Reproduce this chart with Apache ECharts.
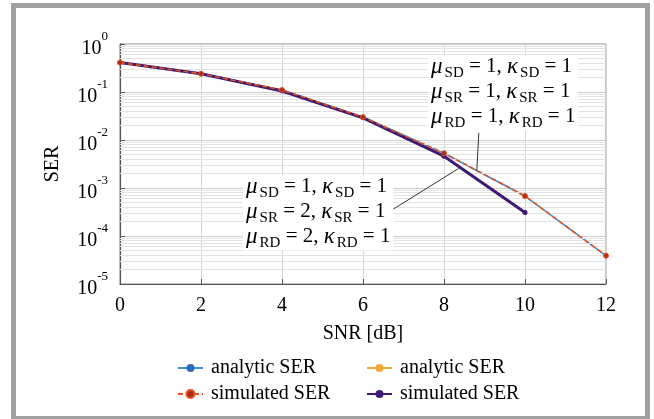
<!DOCTYPE html>
<html>
<head>
<meta charset="utf-8">
<script src="https://cdn.jsdelivr.net/npm/echarts@6/dist/echarts.min.js"></script>
<style>
html,body{margin:0;padding:0;background:#fff;}
#chart{width:654px;height:419px;}
</style>
</head>
<body>
<div id="chart"></div>
<script>
// ---- data ----
const snr = [0, 2, 4, 6, 8, 10, 12];
const analytic1 = [0.41, 0.24, 0.11, 0.030, 0.0053, 0.00068, 0.000039];
const simulated1 = [0.41, 0.24, 0.11, 0.030, 0.0053, 0.00068, 0.000039];
const snr2 = [0, 2, 4, 6, 8, 10];
const analytic2 = [0.41, 0.24, 0.105, 0.029, 0.0046, 0.00031];
const simulated2 = [0.41, 0.24, 0.105, 0.029, 0.0046, 0.00031];
const xTicks = [0, 2, 4, 6, 8, 10, 12];
const yDecades = [-5, -4, -3, -2, -1];
const minorMultipliers = [2, 3, 4, 5, 6, 7, 8, 9];
// annotation arrows [start, end] in data coordinates
const arrowUpper = [[8.86, 0.0141], [8.81, 0.0023]];
const arrowLower = [[6.67, 0.00033], [8.36, 0.00255]];

const serif = "'Liberation Serif','Times New Roman',serif";
const chart = echarts.init(document.getElementById('chart'));

const xMin = xTicks[0], xMax = xTicks[xTicks.length - 1];
const minorLines = [];
yDecades.forEach(d => minorMultipliers.forEach(m => {
  const v = m * Math.pow(10, d);
  minorLines.push([{ coord: [xMin, v] }, { coord: [xMax, v] }]);
}));

function pairs(xs, ys) { return xs.map((x, i) => [x, ys[i]]); }

const rich = {
  m: { fontFamily: serif, fontStyle: 'italic', fontSize: 23, color: '#000', padding: [0, 0, 3, 0] },
  s: { fontFamily: serif, fontSize: 15, color: '#000', padding: [10, 0, 0, 2] },
  t: { fontFamily: serif, fontSize: 21, color: '#000', padding: [0, 0, 3, 0] }
};
function annLines(a, b, c) {
  return [
    '{m|μ}{s|SD}{t| = ' + a + ', }{m|κ}{s|SD}{t| = 1}',
    '{m|μ}{s|SR}{t| = ' + b + ', }{m|κ}{s|SR}{t| = 1}',
    '{m|μ}{s|RD}{t| = ' + c + ', }{m|κ}{s|RD}{t| = 1}'
  ].join('\n');
}

const option = {
  backgroundColor: '#fff',
  animation: false,
  grid: { left: 120, top: 44, right: 48, bottom: 135, show: true, borderColor: '#8a8a8a', borderWidth: 1 },
  xAxis: {
    type: 'value', min: 0, max: 12, interval: 2,
    name: 'SNR [dB]', nameLocation: 'middle', nameGap: 40,
    nameTextStyle: { fontFamily: serif, fontSize: 20, color: '#000' },
    axisLine: { lineStyle: { color: '#555', width: 1.2 } },
    axisTick: { inside: true, length: 5, lineStyle: { color: '#555' } },
    axisLabel: { fontFamily: serif, fontSize: 20, color: '#000', margin: 12 },
    splitLine: { show: true, lineStyle: { color: '#d4d4d4', width: 1 } }
  },
  yAxis: {
    type: 'log', logBase: 10, min: 0.00001, max: 1,
    name: 'SER', nameLocation: 'middle', nameGap: 57,
    nameTextStyle: { fontFamily: serif, fontSize: 20, color: '#000' },
    axisLine: { show: true, lineStyle: { color: '#555', width: 1.2 } },
    axisTick: { show: true, inside: true, length: 5, lineStyle: { color: '#555' } },
    axisLabel: {
      margin: 12,
      formatter: function (v) {
        const e = Math.round(Math.log10(v));
        return '{b|10}{e|' + (e === 0 ? '0' : e) + '}';
      },
      rich: {
        b: { fontFamily: serif, fontSize: 20, color: '#000', padding: [10, 0, 0, 0] },
        e: { fontFamily: serif, fontSize: 13, color: '#000', padding: [0, 0, 14, 0] }
      }
    },
    splitLine: { show: true, lineStyle: { color: '#cccccc', width: 1 } }
  },
  legend: [
    {
      orient: 'vertical', left: 172, top: 353, itemWidth: 25, itemHeight: 10, itemGap: 6,
      data: ['analytic SER', 'simulated SER'],
      formatter: n => n.trim(),
      textStyle: { fontFamily: serif, fontSize: 20, color: '#000', padding: [0, 0, 0, 3] }
    },
    {
      orient: 'vertical', left: 361, top: 353, itemWidth: 25, itemHeight: 10, itemGap: 6,
      data: ['analytic SER ', 'simulated SER '],
      formatter: n => n.trim(),
      textStyle: { fontFamily: serif, fontSize: 20, color: '#000', padding: [0, 0, 0, 3] }
    }
  ],
  series: [
    {
      name: 'analytic SER', type: 'line', data: pairs(snr, analytic1), z: 3,
      symbol: 'circle', symbolSize: 4, showSymbol: true,
      lineStyle: { color: '#3c92d8', width: 1.6 }, itemStyle: { color: '#2a6fbf' },
      markLine: {
        silent: true, symbol: 'none', label: { show: false }, animation: false,
        lineStyle: { color: '#e2e2e2', width: 1, type: 'solid' },
        data: minorLines
      }
    },
    {
      name: 'analytic SER ', type: 'line', data: pairs(snr2, analytic2), z: 4,
      symbol: 'circle', symbolSize: 4,
      lineStyle: { color: '#f2a73a', width: 1.6 }, itemStyle: { color: '#f2a73a' }
    },
    {
      name: 'simulated SER ', type: 'line', data: pairs(snr2, simulated2), z: 5,
      symbol: 'circle', symbolSize: 5,
      lineStyle: { color: '#3f1a72', width: 3 }, itemStyle: { color: '#3f1a72' }
    },
    {
      name: 'simulated SER', type: 'line', data: pairs(snr, simulated1), z: 6,
      symbol: 'circle', symbolSize: 5,
      lineStyle: { color: '#e2521e', width: 1.6, type: [5, 3] },
      itemStyle: { color: '#a8301a', borderColor: '#e2521e', borderWidth: 1 },
      markLine: {
        silent: true, symbol: ['none', 'arrow'], symbolSize: [0, 8], label: { show: false },
        lineStyle: { color: '#333', width: 1, type: 'solid' },
        data: [
          [{ coord: arrowUpper[0] }, { coord: arrowUpper[1] }],
          [{ coord: arrowLower[0] }, { coord: arrowLower[1] }]
        ]
      }
    }
  ],
  graphic: [
    {
      type: 'rect', left: 11, top: 3, z: 0, silent: true,
      shape: { width: 634, height: 413 },
      style: { fill: 'none', stroke: '#a0a0a0', lineWidth: 5 }
    },
    {
      type: 'text', left: 428, top: 55, z: 20,
      style: { text: annLines(1, 1, 1), rich: rich, backgroundColor: '#fff', padding: [0, 3, 0, 3], lineHeight: 25 }
    },
    {
      type: 'text', left: 243, top: 175, z: 20,
      style: { text: annLines(1, 2, 2), rich: rich, backgroundColor: '#fff', padding: [0, 3, 0, 3], lineHeight: 25 }
    }
  ]
};
chart.setOption(option);
</script>
</body>
</html>
